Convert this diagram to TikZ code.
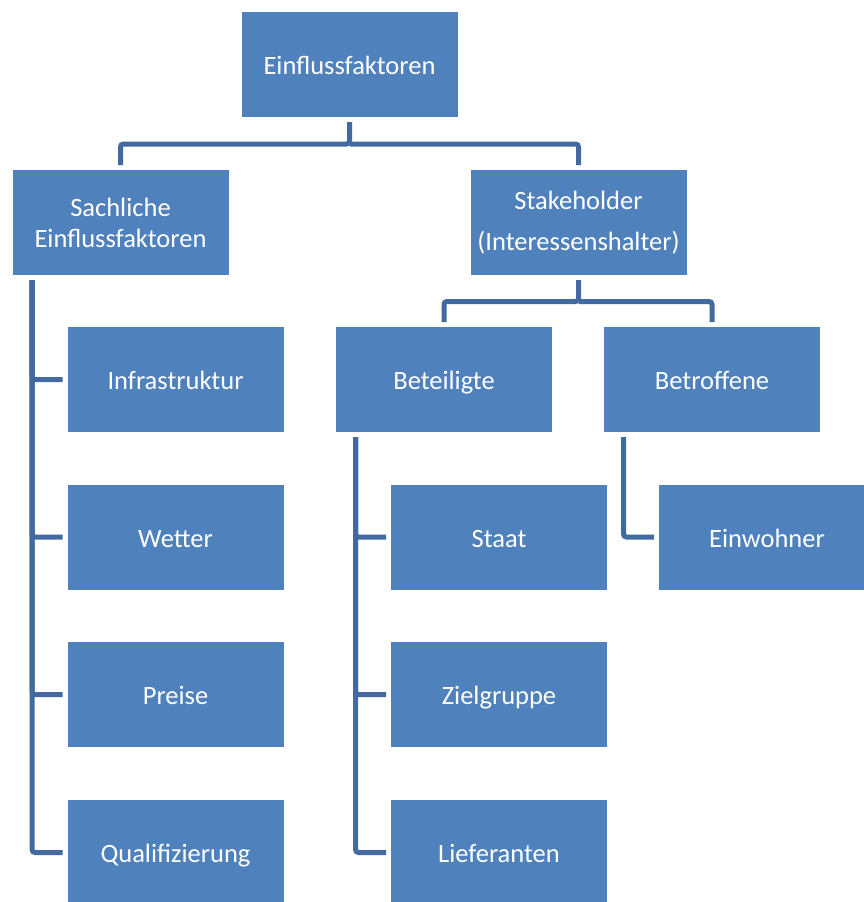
\documentclass[tikz,border=0pt]{standalone}
\usepackage{fontspec}
\setmainfont{Carlito}
\usetikzlibrary{calc}
\definecolor{boxfill}{RGB}{79,129,189}
\definecolor{linkcol}{RGB}{66,106,160}
\tikzset{
  orgbox/.style={rectangle, fill=boxfill, text=white, minimum width=216pt,
    minimum height=105pt, inner sep=0pt, outer sep=5pt, align=center,
    font=\fontsize{26.5}{31}\selectfont},
  onebox/.style={orgbox, text height=24pt, text depth=4pt},
  link/.style={draw=linkcol, line width=5pt, rounded corners=3pt}
}
\begin{document}
\begin{tikzpicture}[x=1pt, y=-1pt]
\useasboundingbox (0,0) rectangle (864,902);
\clip (0,0) rectangle (864,902);

% boxes
\node[onebox] (top)   at (349.5,64.5)  {Einflussfaktoren};
\node[orgbox] (sach)  at (120.5,222.5) {Sachliche\\Einflussfaktoren};
\node[orgbox] (stake) at (578.5,222.5) {Stakeholder\\[10pt](Interessenshalter)};

\node[onebox] (infra) at (175.5,379.5) {Infrastruktur};
\node[onebox] (wett)  at (175.5,537)   {Wetter};
\node[onebox] (preis) at (175.5,694.5) {Preise};
\node[onebox] (quali) at (175.5,852.5) {Qualifizierung};

\node[onebox] (beteil) at (444,379.5) {Beteiligte};
\node[onebox] (betrof) at (712,379.5) {Betroffene};

\node[onebox] (staat) at (499,537)   {Staat};
\node[onebox] (ziel)  at (499,694.5) {Zielgruppe};
\node[onebox] (lief)  at (499,852.5) {Lieferanten};

\node[onebox] (einw)  at (767,537)   {Einwohner};

% top level split
\coordinate (j1) at ($(top.south)+(0,22)$);
\draw[link] (top.south) -- (j1) -| (sach.north);
\draw[link] (j1) -| (stake.north);

% stakeholder split
\coordinate (j2) at ($(stake.south)+(0,21.5)$);
\draw[link] (stake.south) -- (j2) -| (beteil.north);
\draw[link] (j2) -| (betrof.north);

% trunk lines down the left side of each parent
\coordinate (t1) at ([xshift=24.5pt]sach.south west);
\coordinate (t2) at ([xshift=24.5pt]beteil.south west);
\coordinate (t3) at ([xshift=24.5pt]betrof.south west);

\draw[link] (t1) |- (quali.west);
\draw[link] (t1) |- (infra.west);
\draw[link] (t1) |- (wett.west);
\draw[link] (t1) |- (preis.west);

\draw[link] (t2) |- (lief.west);
\draw[link] (t2) |- (staat.west);
\draw[link] (t2) |- (ziel.west);

\draw[link] (t3) |- (einw.west);
\end{tikzpicture}
\end{document}
